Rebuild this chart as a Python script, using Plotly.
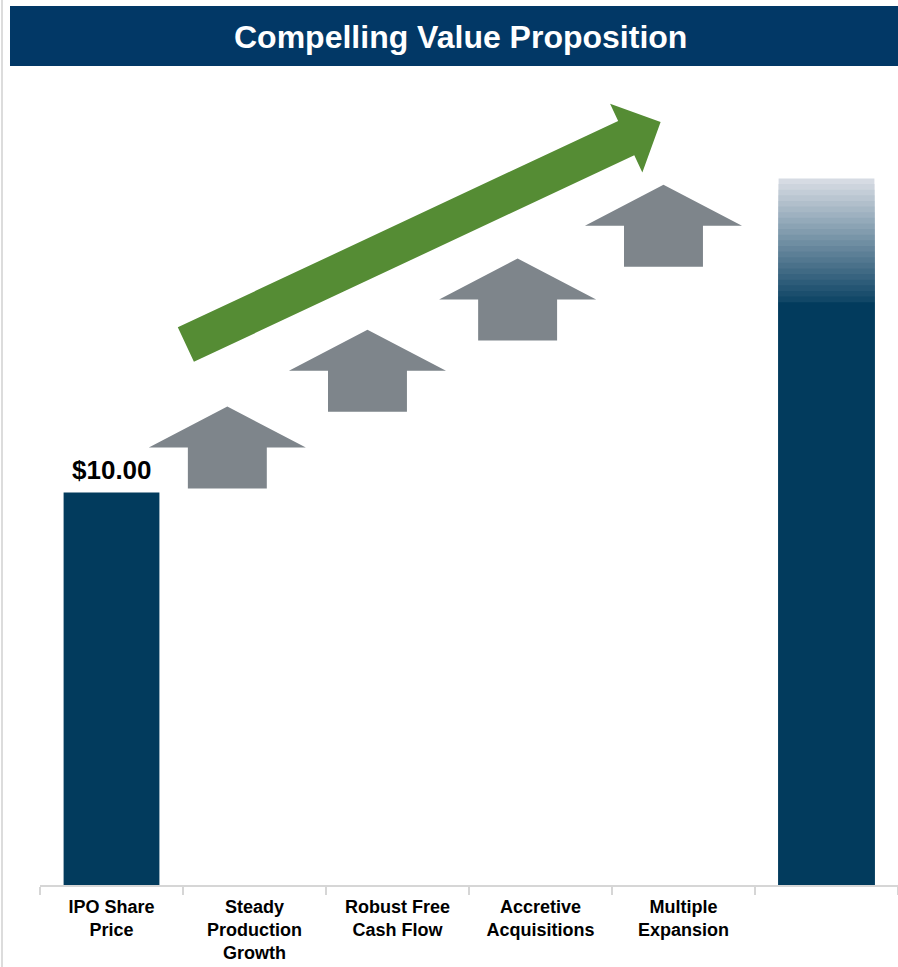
import plotly.graph_objects as go

# ---- data -------------------------------------------------------------
categories = ["IPO Share<br>Price", "Steady<br>Production<br>Growth",
              "Robust Free<br>Cash Flow", "Accretive<br>Acquisitions",
              "Multiple<br>Expansion", " "]
ipo_price = 10.00
target_solid = 14.85      # solid part of the right-hand bar
target_top = 18.0         # top of the faded (upside) part
driver_x = [0.81, 1.79, 2.84, 3.86]        # centre of each driver arrow
driver_base = [10.10, 12.06, 13.87, 15.75]  # bottom of each driver arrow
trend_tail = (0.52, 13.77)
trend_tip = (3.84, 19.44)

# ---- geometry ---------------------------------------------------------
W, H = 898, 967
ML, MR, MT, MB = 40, 0, 100, 82
YMAX = 20
PW, PH = W - ML - MR, H - MT - MB
n_cat = len(categories)
ux = PW / n_cat          # px per category
uy = PH / YMAX           # px per dollar

NAVY = "#023B5D"
TITLE_BG = "#023866"
GREY = "#7E858B"
GREEN = "#558C34"
FONT = "Liberation Sans, Arial"


def d2p(x, y):
    return (ML + (x + 0.5) * ux, MT + PH - y * uy)


def p2d(px, py):
    return ((px - ML) / ux - 0.5, (MT + PH - py) / uy)


def px_paper_x(px):
    return (px - ML) / PW


def px_paper_y(py):
    return (MT + PH - py) / PH


fig = go.Figure()

# faded upside on the target bar: nested bars, tallest (lightest) first
n_bands = 22
lo = (8, 64, 97)
hi = (214, 219, 227)
step = (target_top - target_solid) / n_bands
tops, colors = [], []
for i in reversed(range(n_bands)):
    t = (i + 1) / n_bands
    c = tuple(round(lo[k] + (hi[k] - lo[k]) * t) for k in range(3))
    tops.append(target_solid + (i + 1) * step)
    colors.append("rgb(%d,%d,%d)" % c)
fig.add_trace(go.Bar(x=[categories[-1]] * n_bands, y=tops,
                     marker=dict(color=colors, line=dict(width=0)),
                     hoverinfo="skip", showlegend=False))

# IPO bar and solid part of the target bar
fig.add_trace(go.Bar(x=[categories[0], categories[-1]], y=[ipo_price, target_solid],
                     marker=dict(color=NAVY, line=dict(width=0)),
                     hoverinfo="skip", showlegend=False))

shapes = []

# grey "up" arrows for each value driver
shaft_hw, head_hw = 0.276, 0.549
seg_h = 41 / uy
for cx, yb in zip(driver_x, driver_base):
    pts = [(cx - shaft_hw, yb), (cx + shaft_hw, yb), (cx + shaft_hw, yb + seg_h),
           (cx + head_hw, yb + seg_h), (cx, yb + 2 * seg_h),
           (cx - head_hw, yb + seg_h), (cx - shaft_hw, yb + seg_h)]
    path = "M " + " L ".join("%f,%f" % p for p in pts) + " Z"
    shapes.append(dict(type="path", path=path, xref="x", yref="y",
                       fillcolor=GREY, line=dict(width=0), layer="above"))

# green trend arrow, built in pixel space so it keeps its proportions
tx, ty = d2p(*trend_tail)
hx, hy = d2p(*trend_tip)
dx, dy = hx - tx, hy - ty
L = (dx * dx + dy * dy) ** 0.5
ux_, uy_ = dx / L, dy / L
nx, ny = -uy_, ux_
sw, hw, hl = 19, 38, 38
bx, by = hx - ux_ * hl, hy - uy_ * hl
pix = [(tx + nx * sw, ty + ny * sw), (bx + nx * sw, by + ny * sw),
       (bx + nx * hw, by + ny * hw), (hx, hy),
       (bx - nx * hw, by - ny * hw), (bx - nx * sw, by - ny * sw),
       (tx - nx * sw, ty - ny * sw)]
path = "M " + " L ".join("%f,%f" % p2d(*p) for p in pix) + " Z"
shapes.append(dict(type="path", path=path, xref="x", yref="y",
                   fillcolor=GREEN, line=dict(width=0), layer="above"))

# header band
shapes.append(dict(type="rect", xref="paper", yref="paper",
                   x0=px_paper_x(10), x1=px_paper_x(W), y0=px_paper_y(66), y1=px_paper_y(6),
                   fillcolor=TITLE_BG, line=dict(width=0)))
# thin frame line on the left edge
shapes.append(dict(type="line", xref="paper", yref="paper",
                   x0=px_paper_x(2), x1=px_paper_x(2), y0=px_paper_y(H), y1=px_paper_y(0),
                   line=dict(color="#DCDCDC", width=2)))

annotations = [
    dict(text="<b>Compelling Value Proposition</b>", xref="paper", yref="paper",
         x=px_paper_x(460), y=px_paper_y(37), xanchor="center", yanchor="middle",
         showarrow=False, font=dict(family=FONT, size=32, color="white")),
    dict(text="<b>$%.2f</b>" % ipo_price, x=categories[0], y=ipo_price, xref="x", yref="y",
         xanchor="center", yanchor="bottom", yshift=6, showarrow=False,
         font=dict(family=FONT, size=26, color="black")),
]

fig.update_layout(
    width=W, height=H,
    margin=dict(l=ML, r=MR, t=MT, b=MB, pad=0, autoexpand=False),
    paper_bgcolor="white", plot_bgcolor="white",
    barmode="overlay", bargap=0.33,
    shapes=shapes, annotations=annotations,
    xaxis=dict(type="category", categoryorder="array", categoryarray=categories,
               range=[-0.5, n_cat - 0.5], showgrid=False, zeroline=False,
               automargin=False,
               showline=True, linecolor="#D6D6D6", linewidth=2,
               ticks="outside", tickson="boundaries", ticklen=8, tickwidth=2,
               tickcolor="#D6D6D6", ticklabelstandoff=4,
               tickfont=dict(family=FONT, size=18, color="black"),
               tickvals=categories, ticktext=["<b>%s</b>" % c for c in categories]),
    yaxis=dict(range=[0, YMAX], visible=False, showgrid=False, zeroline=False,
               automargin=False),
)

fig.write_html("out.html")
